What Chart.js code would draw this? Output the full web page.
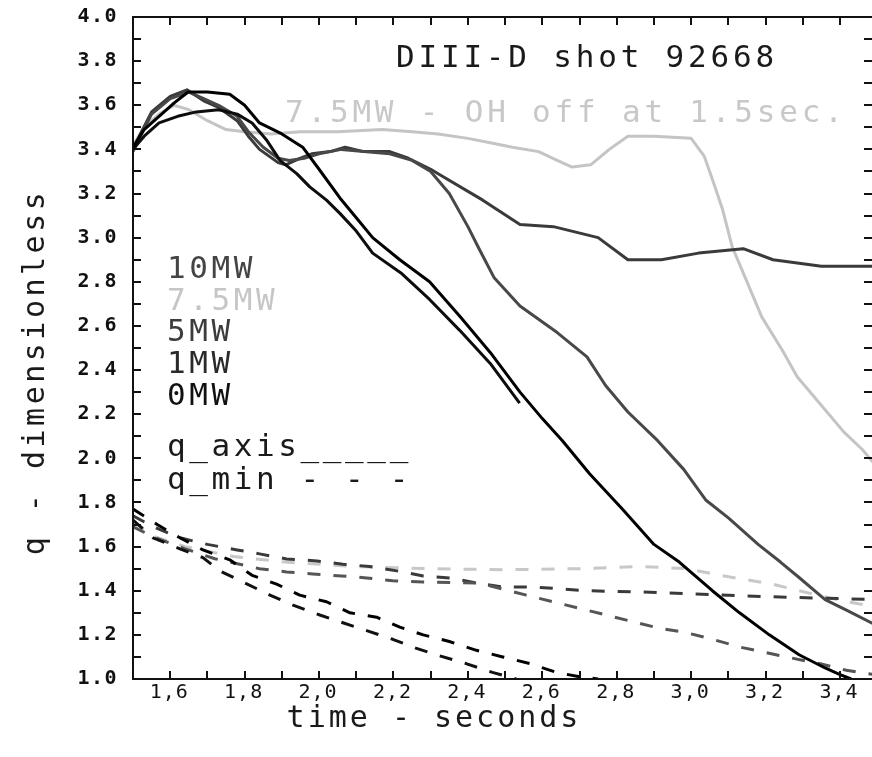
<!DOCTYPE html>
<html>
<head>
<meta charset="utf-8">
<title>DIII-D shot 92668</title>
<script src="https://cdn.jsdelivr.net/npm/chart.js@4.4.1/dist/chart.umd.min.js"></script>
<style>
  html, body { margin: 0; padding: 0; background: #fff; }
  #wrap { width: 872px; height: 757px; }
</style>
</head>
<body>
<div id="wrap"><canvas id="qChart" width="872" height="757"></canvas></div>
<script>
// q_axis (solid lines), time in seconds
const tAxis10 = [1.50, 1.52, 1.55, 1.60, 1.645, 1.69, 1.73, 1.78, 1.81, 1.84, 1.89, 1.91, 1.95, 1.98, 2.03, 2.07, 2.12, 2.19, 2.24, 2.30, 2.32, 2.44, 2.54, 2.63, 2.75, 2.83, 2.92, 3.02, 3.14, 3.22, 3.35, 3.49];
const qAxis10 = [3.40, 3.47, 3.57, 3.64, 3.67, 3.62, 3.59, 3.53, 3.46, 3.40, 3.34, 3.33, 3.36, 3.38, 3.39, 3.41, 3.39, 3.39, 3.36, 3.31, 3.29, 3.17, 3.06, 3.05, 3.00, 2.90, 2.90, 2.93, 2.95, 2.90, 2.87, 2.87];

const tAxis75 = [1.50, 1.53, 1.57, 1.61, 1.65, 1.70, 1.75, 1.80, 1.87, 1.95, 2.05, 2.17, 2.25, 2.32, 2.40, 2.46, 2.52, 2.59, 2.64, 2.68, 2.73, 2.78, 2.83, 2.90, 3.00, 3.035, 3.06, 3.084, 3.11, 3.13, 3.16, 3.19, 3.245, 3.285, 3.34, 3.41, 3.46, 3.49];
const qAxis75 = [3.42, 3.50, 3.56, 3.60, 3.58, 3.53, 3.49, 3.48, 3.47, 3.48, 3.48, 3.49, 3.48, 3.47, 3.45, 3.43, 3.41, 3.39, 3.35, 3.32, 3.33, 3.40, 3.46, 3.46, 3.45, 3.37, 3.25, 3.13, 2.96, 2.88, 2.76, 2.64, 2.49, 2.37, 2.26, 2.12, 2.04, 1.98];

const tAxis5 = [1.50, 1.52, 1.55, 1.60, 1.65, 1.69, 1.73, 1.78, 1.81, 1.85, 1.89, 1.92, 1.96, 2.00, 2.06, 2.12, 2.19, 2.25, 2.30, 2.35, 2.40, 2.43, 2.47, 2.54, 2.64, 2.72, 2.77, 2.83, 2.91, 2.98, 3.04, 3.10, 3.18, 3.24, 3.29, 3.36, 3.42, 3.49];
const qAxis5 = [3.39, 3.46, 3.56, 3.63, 3.66, 3.63, 3.60, 3.55, 3.48, 3.41, 3.36, 3.35, 3.36, 3.38, 3.40, 3.39, 3.38, 3.35, 3.30, 3.20, 3.05, 2.95, 2.82, 2.69, 2.57, 2.46, 2.33, 2.21, 2.08, 1.95, 1.81, 1.73, 1.61, 1.53, 1.46, 1.36, 1.31, 1.25];

const tAxis1 = [1.50, 1.53, 1.57, 1.62, 1.67, 1.73, 1.78, 1.82, 1.86, 1.895, 1.94, 1.975, 2.02, 2.056, 2.10, 2.144, 2.22, 2.297, 2.378, 2.46, 2.539];
const qAxis1 = [3.40, 3.46, 3.52, 3.55, 3.57, 3.58, 3.56, 3.52, 3.44, 3.35, 3.29, 3.23, 3.17, 3.11, 3.03, 2.93, 2.84, 2.72, 2.58, 2.43, 2.25];

const tAxis0 = [1.50, 1.53, 1.57, 1.61, 1.648, 1.70, 1.76, 1.80, 1.84, 1.90, 1.956, 2.00, 2.056, 2.10, 2.144, 2.217, 2.297, 2.38, 2.46, 2.54, 2.60, 2.654, 2.727, 2.815, 2.90, 2.968, 3.057, 3.13, 3.21, 3.29, 3.36, 3.40, 3.43];
const qAxis0 = [3.41, 3.49, 3.55, 3.61, 3.66, 3.66, 3.65, 3.60, 3.52, 3.47, 3.41, 3.31, 3.18, 3.09, 3.00, 2.90, 2.80, 2.64, 2.48, 2.30, 2.18, 2.08, 1.93, 1.77, 1.61, 1.53, 1.40, 1.30, 1.20, 1.11, 1.05, 1.02, 1.00];

// q_min (dashed lines)
const tMin10 = [1.50, 1.554, 1.626, 1.70, 1.78, 1.84, 1.913, 1.994, 2.064, 2.136, 2.209, 2.28, 2.351, 2.423, 2.494, 2.566, 2.638, 2.72, 2.853, 2.995, 3.13, 3.27, 3.43, 3.49];
const qMin10 = [1.74, 1.69, 1.64, 1.61, 1.585, 1.567, 1.544, 1.535, 1.52, 1.51, 1.49, 1.467, 1.458, 1.435, 1.417, 1.417, 1.41, 1.40, 1.395, 1.386, 1.377, 1.37, 1.363, 1.36];

const tMin75 = [1.50, 1.55, 1.64, 1.77, 1.91, 2.09, 2.30, 2.50, 2.70, 2.86, 2.99, 3.076, 3.148, 3.218, 3.29, 3.417, 3.49];
const qMin75 = [1.71, 1.65, 1.60, 1.555, 1.53, 1.51, 1.50, 1.495, 1.50, 1.51, 1.50, 1.47, 1.45, 1.43, 1.40, 1.35, 1.33];

const tMin5 = [1.50, 1.56, 1.64, 1.72, 1.84, 1.913, 1.983, 2.06, 2.128, 2.198, 2.28, 2.351, 2.43, 2.557, 2.628, 2.70, 2.772, 2.842, 2.915, 2.987, 3.057, 3.13, 3.20, 3.27, 3.344, 3.417, 3.49];
const qMin5 = [1.69, 1.64, 1.59, 1.545, 1.50, 1.485, 1.476, 1.467, 1.458, 1.445, 1.44, 1.437, 1.435, 1.38, 1.35, 1.32, 1.29, 1.26, 1.23, 1.21, 1.18, 1.145, 1.12, 1.095, 1.07, 1.04, 1.02];

const tMin1 = [1.50, 1.554, 1.626, 1.688, 1.733, 1.795, 1.868, 1.93, 2.002, 2.064, 2.136, 2.198, 2.26, 2.324, 2.395, 2.466, 2.53];
const qMin1 = [1.72, 1.64, 1.59, 1.55, 1.49, 1.44, 1.38, 1.335, 1.29, 1.255, 1.215, 1.18, 1.14, 1.105, 1.07, 1.03, 1.00];

const tMin0 = [1.50, 1.565, 1.626, 1.688, 1.76, 1.82, 1.886, 1.948, 2.02, 2.083, 2.155, 2.217, 2.28, 2.35, 2.423, 2.494, 2.566, 2.638, 2.70, 2.75];
const qMin0 = [1.77, 1.70, 1.64, 1.585, 1.54, 1.47, 1.43, 1.38, 1.35, 1.30, 1.28, 1.235, 1.20, 1.17, 1.13, 1.10, 1.07, 1.03, 1.01, 1.00];

// legend text block
const powerLabels = ['10MW', '7.5MW', '5MW', '1MW', '0MW'];
const powerColors = ['#444444', '#c6c6c6', '#3c3c3c', '#2a2a2a', '#111111'];

const FONT = '"DejaVu Sans Mono", "Liberation Mono", monospace';

function toPoints(ts, qs) {
  return ts.map((t, i) => ({ x: t, y: qs[i] }));
}

function series(label, ts, qs, color, dashed) {
  return {
    label,
    data: toPoints(ts, qs),
    borderColor: color,
    borderWidth: 3,
    borderDash: dashed ? [13, 13] : [],
    borderJoinStyle: 'round',
    pointRadius: 0,
    tension: 0,
    fill: false
  };
}

// first dataset is painted last (on top)
const datasets = [
  series('0MW q_axis', tAxis0, qAxis0, '#000000', false),
  series('1MW q_axis', tAxis1, qAxis1, '#0d0d0d', false),
  series('5MW q_axis', tAxis5, qAxis5, '#484848', false),
  series('10MW q_axis', tAxis10, qAxis10, '#3a3a3a', false),
  series('0MW q_min', tMin0, qMin0, '#000000', true),
  series('1MW q_min', tMin1, qMin1, '#111111', true),
  series('5MW q_min', tMin5, qMin5, '#555555', true),
  series('10MW q_min', tMin10, qMin10, '#3a3a3a', true),
  series('7.5MW q_min', tMin75, qMin75, '#c8c8c8', true),
  series('7.5MW q_axis', tAxis75, qAxis75, '#c4c4c4', false)
];

function tenths(v) {
  return Math.round(v * 10);
}

// frame with inward tick marks, tick labels and all texts
const framePlugin = {
  id: 'frame',
  afterDatasetsDraw(chart) {
    const { ctx, chartArea: a, scales: { x, y } } = chart;
    const len = 8;
    ctx.save();
    ctx.strokeStyle = '#111';
    ctx.lineWidth = 2;
    ctx.beginPath();
    ctx.moveTo(a.right, a.top);
    ctx.lineTo(a.left, a.top);
    ctx.lineTo(a.left, a.bottom);
    ctx.lineTo(a.right, a.bottom);
    x.ticks.forEach((tk, i) => {
      const px = Math.round(x.getPixelForTick(i));
      if (px <= a.left + 1) return;
      ctx.moveTo(px, a.bottom);
      ctx.lineTo(px, a.bottom - len);
      ctx.moveTo(px, a.top);
      ctx.lineTo(px, a.top + len);
    });
    y.ticks.forEach((tk, i) => {
      const py = Math.round(y.getPixelForTick(i));
      if (py <= a.top + 1 || py >= a.bottom - 1) return;
      ctx.moveTo(a.left, py);
      ctx.lineTo(a.left + len, py);
      ctx.moveTo(a.right, py);
      ctx.lineTo(a.right - len, py);
    });
    ctx.stroke();

    // tick labels, every 0.2
    ctx.fillStyle = '#111';
    ctx.textBaseline = 'middle';
    ctx.font = '20px ' + FONT;
    ctx.letterSpacing = '1px';
    ctx.textAlign = 'center';
    x.ticks.forEach((tk, i) => {
      const n = tenths(tk.value);
      if (n % 2 !== 0) return;
      ctx.fillText((n / 10).toFixed(1).replace('.', ','), x.getPixelForTick(i) - 1, 693);
    });
    ctx.font = 'bold 20px ' + FONT;
    ctx.letterSpacing = '1.5px';
    ctx.textAlign = 'right';
    y.ticks.forEach((tk, i) => {
      const n = tenths(tk.value);
      if (n % 2 !== 0) return;
      ctx.fillText((n / 10).toFixed(1), 118, y.getPixelForTick(i));
    });
    ctx.restore();
  },
  afterDraw(chart) {
    const ctx = chart.ctx;
    ctx.save();
    ctx.textAlign = 'left';
    ctx.textBaseline = 'alphabetic';

    ctx.font = '31px ' + FONT;
    ctx.letterSpacing = '3.8px';
    ctx.fillStyle = '#1a1a1a';
    ctx.fillText('DIII-D shot 92668', 396, 67);
    ctx.fillStyle = '#c8c8c8';
    ctx.fillText('7.5MW - OH off at 1.5sec.', 285, 122);

    ctx.font = '31px ' + FONT;
    ctx.letterSpacing = '3.6px';
    const baselines = [278, 310, 341, 373, 405];
    powerLabels.forEach((lbl, i) => {
      ctx.fillStyle = powerColors[i];
      ctx.fillText(lbl, 167, baselines[i]);
    });
    ctx.fillStyle = '#1a1a1a';
    ctx.fillText('q_axis_____', 167, 456);
    ctx.fillText('q_min - - -', 167, 489);

    // axis titles
    ctx.font = '30px ' + FONT;
    ctx.letterSpacing = '3px';
    ctx.textAlign = 'center';
    ctx.fillText('time - seconds', 434, 727);
    ctx.translate(44, 372);
    ctx.rotate(-Math.PI / 2);
    ctx.letterSpacing = '3.5px';
    ctx.fillText('q - dimensionless', 0, 0);
    ctx.restore();
  }
};

new Chart(document.getElementById('qChart'), {
  type: 'line',
  data: { datasets },
  options: {
    responsive: false,
    animation: false,
    layout: { padding: { top: 17, right: 0, bottom: 0, left: 0 } },
    plugins: {
      legend: { display: false },
      tooltip: { enabled: false },
      title: { display: false }
    },
    scales: {
      x: {
        type: 'linear',
        min: 1.5,
        max: 3.486,
        grid: { display: false, drawTicks: false },
        border: { display: false },
        afterFit: s => { s.height = 78; },
        ticks: { display: false, stepSize: 0.1, includeBounds: false, autoSkip: false }
      },
      y: {
        type: 'linear',
        min: 1.0,
        max: 4.0,
        grid: { display: false, drawTicks: false },
        border: { display: false },
        afterFit: s => { s.width = 133; },
        ticks: { display: false, stepSize: 0.1, includeBounds: false, autoSkip: false }
      }
    }
  },
  plugins: [framePlugin]
});
</script>
</body>
</html>
